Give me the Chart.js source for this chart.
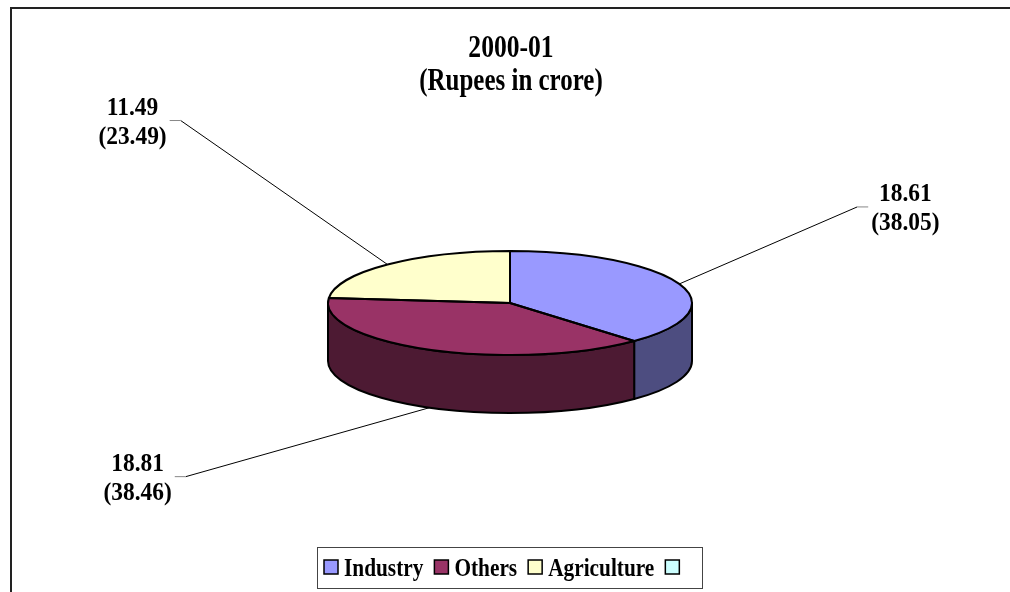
<!DOCTYPE html>
<html>
<head>
<meta charset="utf-8">
<script src="https://cdn.jsdelivr.net/npm/chart.js@4.4.1/dist/chart.umd.min.js"></script>
<style>
  html, body { margin: 0; padding: 0; background: #fff; }
  #wrap { width: 1010px; height: 592px; }
</style>
</head>
<body>
<div id="wrap"><canvas id="chart" width="1010" height="592"></canvas></div>
<script>
(function () {
  "use strict";

  const CATEGORIES = ["Industry", "Others", "Agriculture", ""];
  const VALUES = [18.61, 18.81, 11.49, 0];
  const TOP_COLORS = ["#9999ff", "#993366", "#ffffcc", "#ccffff"];
  const SIDE_COLORS = ["#4d4d80", "#4d1a33", "#808066", "#668080"];
  const TITLE_LINES = ["2000-01", "(Rupees in crore)"];

  const FONT = "'Liberation Serif', 'Times New Roman', serif";
  const TILT = 52 / 182;  // height of top face vs width
  const DEPTH = 58;
  // label block offset from where its leader touches the pie
  const LABEL_SHIFT = [[226, -77], [-292, 69], [-255, -144], [0, 0]];

  const total = VALUES.reduce(function (a, b) { return a + b; }, 0);

  // the old chart's fonts are drawn narrow, so squeeze them sideways
  function squeezed(ctx, text, x, y, sx) {
    ctx.save();
    ctx.translate(x, y);
    ctx.scale(sx, 1);
    ctx.fillText(text, 0, 0);
    ctx.restore();
  }

  function drawTitle(chart) {
    const ctx = chart.ctx;
    ctx.save();
    ctx.fillStyle = "#000";
    ctx.font = "bold 32px " + FONT;
    ctx.textAlign = "center";
    ctx.textBaseline = "alphabetic";
    squeezed(ctx, TITLE_LINES[0], 511, 57, 0.8);
    squeezed(ctx, TITLE_LINES[1], 511, 90, 0.78);
    ctx.restore();
  }

  function drawLegend(chart) {
    const ctx = chart.ctx;
    const sx = 0.82, box = 14, cy = 567;
    ctx.save();
    ctx.font = "bold 26px " + FONT;
    const widths = CATEGORIES.map(function (c) { return ctx.measureText(c).width * sx; });
    let inner = 0;
    widths.forEach(function (w, i) { inner += box + 6 + w + (i < widths.length - 1 ? 11 : 0); });
    const left = Math.round(510 - (inner + 24) / 2);
    ctx.strokeStyle = "#444";
    ctx.lineWidth = 1;
    ctx.strokeRect(left + 0.5, 547.5, Math.round(inner + 24), 41);

    let x = left + 7;
    ctx.textAlign = "left";
    ctx.textBaseline = "alphabetic";
    CATEGORIES.forEach(function (name, i) {
      ctx.fillStyle = TOP_COLORS[i];
      ctx.fillRect(x, cy - box / 2, box, box);
      ctx.strokeStyle = "#000";
      ctx.lineWidth = 1.5;
      ctx.strokeRect(x, cy - box / 2, box, box);
      ctx.fillStyle = "#000";
      squeezed(ctx, name, x + box + 6, cy + 8.6, sx);
      x += box + 6 + widths[i] + 11;
    });
    ctx.restore();
  }

  const pie3d = {
    id: "pie3d",
    beforeDraw: function (chart) {
      const ctx = chart.ctx;
      ctx.save();
      ctx.strokeStyle = "#222";
      ctx.lineWidth = 2;
      ctx.strokeRect(11, 8, chart.width, chart.height);
      ctx.restore();
    },
    beforeDatasetsDraw: function (chart) {
      const ctx = chart.ctx;
      const arcs = chart.getDatasetMeta(0).data;
      const cx = arcs[0].x, cy = arcs[0].y;
      const rx = arcs[0].outerRadius, ry = rx * TILT;

      // front walls, only the part of each slice facing us
      ctx.save();
      ctx.lineWidth = 2;
      ctx.strokeStyle = "#000";
      ctx.lineJoin = "round";
      arcs.forEach(function (arc, i) {
        const s = Math.max(arc.startAngle, 0);
        const e = Math.min(arc.endAngle, Math.PI);
        if (e <= s) return;
        ctx.beginPath();
        ctx.ellipse(cx, cy, rx, ry, 0, s, e, false);
        ctx.lineTo(cx + rx * Math.cos(e), cy + ry * Math.sin(e) + DEPTH);
        ctx.ellipse(cx, cy + DEPTH, rx, ry, 0, e, s, true);
        ctx.closePath();
        ctx.fillStyle = SIDE_COLORS[i];
        ctx.fill();
        ctx.stroke();
      });
      ctx.restore();

      // squash the pie the library draws into the top face
      ctx.save();
      ctx.translate(0, cy);
      ctx.scale(1, TILT);
      ctx.translate(0, -cy);
    },
    afterDatasetsDraw: function (chart) {
      const ctx = chart.ctx;
      ctx.restore();

      const arcs = chart.getDatasetMeta(0).data;
      const cx = arcs[0].x, cy = arcs[0].y;
      const rx = arcs[0].outerRadius, ry = rx * TILT;

      ctx.save();
      ctx.lineWidth = 2;
      ctx.strokeStyle = "#000";
      ctx.lineJoin = "round";
      arcs.forEach(function (arc) {
        if (arc.endAngle - arc.startAngle <= 0) return;
        ctx.beginPath();
        ctx.moveTo(cx, cy);
        ctx.ellipse(cx, cy, rx, ry, 0, arc.startAngle, arc.endAngle, false);
        ctx.closePath();
        ctx.stroke();
      });

      const sx = 0.9;
      ctx.font = "bold 26px " + FONT;
      ctx.textAlign = "center";
      ctx.textBaseline = "alphabetic";
      arcs.forEach(function (arc, i) {
        if (!VALUES[i]) return;
        const mid = (arc.startAngle + arc.endAngle) / 2;
        const ax = cx + rx * Math.cos(mid);
        let ay = cy + ry * Math.sin(mid);
        if (Math.sin(mid) > 0) ay += DEPTH;
        const lx = ax + LABEL_SHIFT[i][0];
        const ly = ay + LABEL_SHIFT[i][1];
        const side = LABEL_SHIFT[i][0] > 0 ? -1 : 1;

        const line1 = VALUES[i].toFixed(2);
        const line2 = "(" + (VALUES[i] / total * 100).toFixed(2) + ")";
        const half = ctx.measureText(line2).width * sx / 2;
        const near = lx + side * (half + 3);
        const far = lx + side * (half + 14);

        ctx.lineWidth = 1;
        ctx.strokeStyle = "#000";
        ctx.beginPath();
        ctx.moveTo(ax, ay);
        ctx.lineTo(far, ly);
        ctx.stroke();
        ctx.strokeStyle = "#888";
        ctx.beginPath();
        ctx.moveTo(far, ly);
        ctx.lineTo(near, ly);
        ctx.stroke();

        ctx.fillStyle = "#000";
        squeezed(ctx, line1, lx, ly - 14.5 + 8.8, sx);
        squeezed(ctx, line2, lx, ly + 14.5 + 8.8, sx);
      });
      ctx.restore();
    },
    afterDraw: function (chart) {
      drawTitle(chart);
      drawLegend(chart);
    }
  };

  new Chart(document.getElementById("chart"), {
    type: "pie",
    data: {
      labels: CATEGORIES,
      datasets: [
        {
          data: VALUES,
          backgroundColor: TOP_COLORS,
          borderWidth: 0,
          radius: 182,
        },
      ],
    },
    options: {
      responsive: false,
      animation: false,
      events: [],
      layout: { padding: { left: 10, right: 0, top: 52, bottom: 38 } },
      plugins: {
        tooltip: { enabled: false },
        title: { display: false },
        legend: { display: false },
      },
    },
    plugins: [pie3d],
  });
})();
</script>
</body>
</html>
